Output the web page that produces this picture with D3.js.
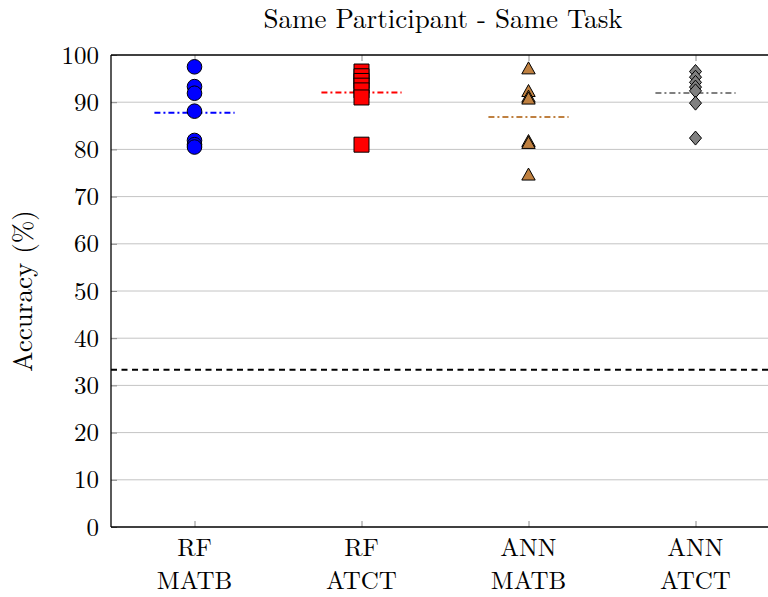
<!DOCTYPE html>
<html>
<head>
<meta charset="utf-8">
<script src="https://cdn.jsdelivr.net/npm/d3@7"></script>
<style>
  html, body { margin: 0; padding: 0; background: #fff; }
  svg { display: block; }
</style>
</head>
<body>
<svg id="chart" width="768" height="597"></svg>
<script>
// Accuracy (%) per participant for each model / task pairing
const categories = [["RF", "MATB"], ["RF", "ATCT"], ["ANN", "MATB"], ["ANN", "ATCT"]];
const rfMatb   = [97.5, 93.3, 91.9, 88.1, 81.9, 81.0, 80.5];
const rfAtct   = [96.5, 95.5, 94.5, 93.5, 92.5, 91.0, 81.0];
const annMatb  = [97.0, 92.2, 91.0, 90.6, 81.6, 81.2, 74.5];
const annAtct  = [96.5, 95.3, 94.2, 93.2, 92.4, 89.8, 82.4];
const seriesValues = [rfMatb, rfAtct, annMatb, annAtct];
const seriesColors = ["#0000ff", "#ff0000", "#bf8040", "#808080"];
const seriesShapes = ["circle", "square", "triangle", "diamond"];
const chanceLevel = 100 / 3;
const yTicks = [0, 10, 20, 30, 40, 50, 60, 70, 80, 90, 100];
const title = "Same Participant - Same Task";
const yLabel = "Accuracy (%)";

const FONT = "'Latin Modern Roman', 'CMU Serif', 'Liberation Serif', serif";
const svg = d3.select("#chart");
const plot = { left: 111, top: 55, bottom: 527, right: 779 };

const x = d3.scaleLinear().domain([0.5, 4.5]).range([plot.left, plot.right]);
const y = d3.scaleLinear().domain([0, 100]).range([plot.bottom, plot.top]);

// horizontal grid
svg.append("g").selectAll("line").data(yTicks.filter(t => t > 0 && t < 100)).join("line")
  .attr("x1", plot.left).attr("x2", plot.right)
  .attr("y1", d => y(d)).attr("y2", d => y(d))
  .attr("stroke", "#c4c4c4").attr("stroke-width", 1);

// y axis ticks (inward) and labels
const yAxis = svg.append("g").attr("transform", `translate(${plot.left},0)`)
  .call(d3.axisLeft(y).tickValues(yTicks).tickSizeInner(-6).tickSizeOuter(0).tickPadding(12));
yAxis.select(".domain").remove();
yAxis.selectAll(".tick line").attr("stroke", "#8a8a8a").attr("stroke-width", 1);
yAxis.selectAll(".tick text")
  .style("font-family", FONT).attr("font-size", 25).attr("fill", "#000");

// x ticks (inward, bottom and top)
const idx = categories.map((c, i) => i + 1);
const xBottom = svg.append("g").attr("transform", `translate(0,${plot.bottom})`)
  .call(d3.axisBottom(x).tickValues(idx).tickSizeInner(-6).tickSizeOuter(0).tickFormat(""));
xBottom.select(".domain").remove();
xBottom.selectAll(".tick line").attr("stroke", "#8a8a8a");
const xTop = svg.append("g").attr("transform", `translate(0,${plot.top})`)
  .call(d3.axisTop(x).tickValues(idx).tickSizeInner(-6).tickSizeOuter(0).tickFormat(""));
xTop.select(".domain").remove();
xTop.selectAll(".tick line").attr("stroke", "#8a8a8a");

// two-line category labels
const catLabels = svg.append("g").selectAll("text").data(categories).join("text")
  .attr("x", (d, i) => x(i + 1)).attr("y", 556)
  .attr("text-anchor", "middle").attr("font-size", 25).style("font-family", FONT);
catLabels.append("tspan").attr("x", (d, i) => x(i + 1)).attr("dy", 0).text(d => d[0]);
catLabels.append("tspan").attr("x", (d, i) => x(i + 1)).attr("dy", 33).text(d => d[1]);

// axis frame (left, bottom, top)
const frame = svg.append("g").attr("stroke", "#000").attr("stroke-width", 1.3);
frame.append("line").attr("x1", plot.left).attr("x2", plot.left).attr("y1", plot.top).attr("y2", plot.bottom);
frame.append("line").attr("x1", plot.left).attr("x2", plot.right).attr("y1", plot.bottom).attr("y2", plot.bottom);
frame.append("line").attr("x1", plot.left).attr("x2", plot.right).attr("y1", plot.top).attr("y2", plot.top);

// chance level
svg.append("line")
  .attr("x1", plot.left).attr("x2", plot.right)
  .attr("y1", y(chanceLevel)).attr("y2", y(chanceLevel))
  .attr("stroke", "#000").attr("stroke-width", 2).attr("stroke-dasharray", "6,4.5");

// mean lines
seriesValues.forEach((vals, i) => {
  const m = d3.mean(vals);
  svg.append("line")
    .attr("x1", x(i + 1 - 0.24)).attr("x2", x(i + 1 + 0.24))
    .attr("y1", y(m)).attr("y2", y(m))
    .attr("stroke", seriesColors[i]).attr("stroke-width", 2)
    .attr("stroke-dasharray", "6,3,2,3");
});

// participant markers
const shapePath = {
  circle: () => d3.symbol(d3.symbolCircle, Math.PI * 7.3 * 7.3)(),
  square: () => "M-7.5,-7.5H7.5V7.5H-7.5Z",
  triangle: () => "M0,-7.3L6.7,4.7H-6.7Z",
  diamond: () => "M0,-7L6,0L0,7L-6,0Z"
};
seriesValues.forEach((vals, i) => {
  svg.append("g").selectAll("path").data(vals).join("path")
    .attr("transform", d => `translate(${x(i + 1)},${y(d)})`)
    .attr("d", shapePath[seriesShapes[i]]())
    .attr("fill", seriesColors[i]).attr("stroke", "#000").attr("stroke-width", 1);
});

// title and y label
svg.append("text").attr("x", 443).attr("y", 28).attr("text-anchor", "middle")
  .style("font-family", FONT).attr("font-size", 27).text(title);
svg.append("text").attr("transform", "translate(32,291) rotate(-90)")
  .attr("text-anchor", "middle").style("font-family", FONT).attr("font-size", 27).text(yLabel);
</script>
</body>
</html>
